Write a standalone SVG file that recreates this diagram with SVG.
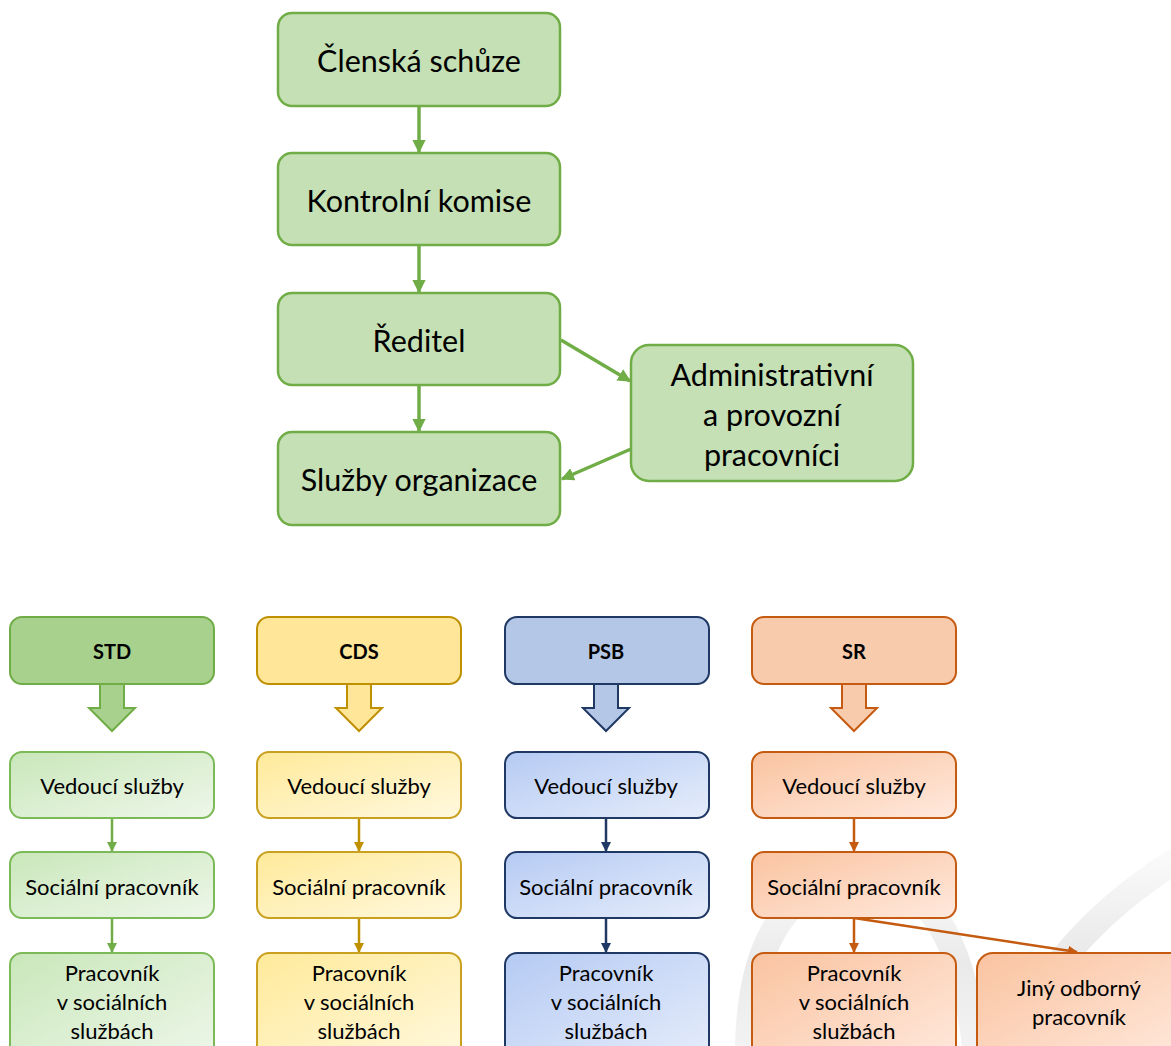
<svg xmlns="http://www.w3.org/2000/svg" width="1171" height="1046" viewBox="0 0 1171 1046">
<defs>
<style>
text{font-family:Lato,"Liberation Sans",sans-serif;fill:#000;text-anchor:middle;dominant-baseline:central}
.top rect{fill:#C5E0B4;stroke:#70AD47;stroke-width:2.5}
.top text{font-size:30.5px}
.hd text{font-size:20px;font-weight:bold}
.lv text{font-size:22px}
.g{stroke:#70AD47}.y{stroke:#BF9000}.b{stroke:#1F3864}.o{stroke:#C55A11}
.conn line{stroke-width:3.5;fill:none}
.conn .thin line{stroke-width:2.5}
</style>
<marker id="mg" viewBox="0 0 10 10" refX="9" refY="5" markerWidth="3.8" markerHeight="3.8" orient="auto" markerUnits="strokeWidth"><path d="M0,0L10,5L0,10z" fill="#70AD47"/></marker>
<marker id="mgs" viewBox="0 0 10 10" refX="9" refY="5" markerWidth="4" markerHeight="4" orient="auto" markerUnits="strokeWidth"><path d="M0,0L10,5L0,10z" fill="#70AD47"/></marker>
<marker id="my" viewBox="0 0 10 10" refX="9" refY="5" markerWidth="4" markerHeight="4" orient="auto" markerUnits="strokeWidth"><path d="M0,0L10,5L0,10z" fill="#BF9000"/></marker>
<marker id="mb" viewBox="0 0 10 10" refX="9" refY="5" markerWidth="4" markerHeight="4" orient="auto" markerUnits="strokeWidth"><path d="M0,0L10,5L0,10z" fill="#1F3864"/></marker>
<marker id="mo" viewBox="0 0 10 10" refX="9" refY="5" markerWidth="4" markerHeight="4" orient="auto" markerUnits="strokeWidth"><path d="M0,0L10,5L0,10z" fill="#C55A11"/></marker>
<linearGradient id="gg" x1="0" y1="0" x2="1" y2="1"><stop offset="0" stop-color="#C9E7BA"/><stop offset="1" stop-color="#EEF7EA"/></linearGradient>
<linearGradient id="gy" x1="0" y1="0" x2="1" y2="1"><stop offset="0" stop-color="#FFEA9A"/><stop offset="1" stop-color="#FFF8DE"/></linearGradient>
<linearGradient id="gb" x1="0" y1="0" x2="1" y2="1"><stop offset="0" stop-color="#B5CAF3"/><stop offset="1" stop-color="#E6EDFB"/></linearGradient>
<linearGradient id="go" x1="0" y1="0" x2="1" y2="1"><stop offset="0" stop-color="#FAC3A0"/><stop offset="1" stop-color="#FFE9DD"/></linearGradient>
<linearGradient id="wm" x1="0" y1="0" x2="0" y2="1"><stop offset="0" stop-color="#E6E6E6" stop-opacity="0.2"/><stop offset="0.5" stop-color="#E6E6E6" stop-opacity="0.85"/><stop offset="1" stop-color="#E6E6E6" stop-opacity="0.5"/></linearGradient>
</defs>
<rect width="1171" height="1046" fill="#fff"/>
<g id="watermark" fill="none" stroke="url(#wm)" stroke-width="26">
<path d="M748 1046 Q752 885 860 878 Q955 875 975 1046"/>
<path d="M1010 1046 Q1060 930 1185 855"/>
</g>
<g id="connectors" class="conn">
<line class="g" x1="419" y1="106" x2="419" y2="152" marker-end="url(#mg)"/>
<line class="g" x1="419" y1="245" x2="419" y2="292" marker-end="url(#mg)"/>
<line class="g" x1="419" y1="385" x2="419" y2="431" marker-end="url(#mg)"/>
<line class="g" x1="561" y1="340" x2="630" y2="381" marker-end="url(#mg)"/>
<line class="g" x1="631" y1="449" x2="562" y2="479" marker-end="url(#mg)"/>
<g class="thin">
<line class="g" x1="112" y1="818" x2="112" y2="851" marker-end="url(#mgs)"/>
<line class="g" x1="112" y1="918" x2="112" y2="952" marker-end="url(#mgs)"/>
<line class="y" x1="359" y1="818" x2="359" y2="851" marker-end="url(#my)"/>
<line class="y" x1="359" y1="918" x2="359" y2="952" marker-end="url(#my)"/>
<line class="b" x1="606" y1="818" x2="606" y2="851" marker-end="url(#mb)"/>
<line class="b" x1="606" y1="918" x2="606" y2="952" marker-end="url(#mb)"/>
<line class="o" x1="854" y1="818" x2="854" y2="851" marker-end="url(#mo)"/>
<line class="o" x1="854" y1="918" x2="854" y2="952" marker-end="url(#mo)"/>
<line class="o" x1="854" y1="918" x2="1077" y2="952" marker-end="url(#mo)"/>
</g>
<path d="M100 684H124V708H135L112 731L89 708H100Z" fill="#A9D18E" stroke="#70AD47" stroke-width="2"/>
<path d="M347 684H371V708H382L359 731L336 708H347Z" fill="#FFE699" stroke="#BF9000" stroke-width="2"/>
<path d="M594 684H618V708H629L606 731L583 708H594Z" fill="#B4C7E7" stroke="#1F3864" stroke-width="2"/>
<path d="M842 684H866V708H877L854 731L831 708H842Z" fill="#F8CBAD" stroke="#C55A11" stroke-width="2"/>
</g>
<g id="clenska" class="top"><rect x="278" y="13" width="282" height="93" rx="14"/><text x="419" y="60">Členská schůze</text></g>
<g id="kontrolni" class="top"><rect x="278" y="153" width="282" height="92" rx="14"/><text x="419" y="200">Kontrolní komise</text></g>
<g id="reditel" class="top"><rect x="278" y="293" width="282" height="92" rx="14"/><text x="419" y="340">Ředitel</text></g>
<g id="sluzby" class="top"><rect x="278" y="432" width="282" height="93" rx="14"/><text x="419" y="479">Služby organizace</text></g>
<g id="admin" class="top"><rect x="631" y="345" width="282" height="136" rx="18"/><text x="772" y="374">Administrativní</text><text x="772" y="414">a provozní</text><text x="772" y="454">pracovníci</text></g>

<g id="std" class="hd"><rect x="10" y="617" width="204" height="67" rx="12" fill="#A9D18E" stroke="#70AD47" stroke-width="2"/><text x="112" y="651">STD</text></g>
<g id="cds" class="hd"><rect x="257" y="617" width="204" height="67" rx="12" fill="#FFE699" stroke="#BF9000" stroke-width="2"/><text x="359" y="651">CDS</text></g>
<g id="psb" class="hd"><rect x="505" y="617" width="204" height="67" rx="12" fill="#B4C7E7" stroke="#1F3864" stroke-width="2"/><text x="606" y="651">PSB</text></g>
<g id="sr" class="hd"><rect x="752" y="617" width="204" height="67" rx="12" fill="#F8CBAD" stroke="#C55A11" stroke-width="2"/><text x="854" y="651">SR</text></g>

<g id="std-vedouci" class="lv"><rect x="10" y="752" width="204" height="66" rx="12" fill="url(#gg)" stroke="#7CB957" stroke-width="2"/><text x="112" y="785">Vedoucí služby</text></g>
<g id="std-socialni" class="lv"><rect x="10" y="852" width="204" height="66" rx="12" fill="url(#gg)" stroke="#7CB957" stroke-width="2"/><text x="112" y="886">Sociální pracovník</text></g>
<g id="std-pracovnik" class="lv"><rect x="10" y="953" width="204" height="110" rx="12" fill="url(#gg)" stroke="#7CB957" stroke-width="2"/><text x="112" y="972">Pracovník</text><text x="112" y="1001">v sociálních</text><text x="112" y="1030">službách</text></g>

<g id="cds-vedouci" class="lv"><rect x="257" y="752" width="204" height="66" rx="12" fill="url(#gy)" stroke="#C9A020" stroke-width="2"/><text x="359" y="785">Vedoucí služby</text></g>
<g id="cds-socialni" class="lv"><rect x="257" y="852" width="204" height="66" rx="12" fill="url(#gy)" stroke="#C9A020" stroke-width="2"/><text x="359" y="886">Sociální pracovník</text></g>
<g id="cds-pracovnik" class="lv"><rect x="257" y="953" width="204" height="110" rx="12" fill="url(#gy)" stroke="#C9A020" stroke-width="2"/><text x="359" y="972">Pracovník</text><text x="359" y="1001">v sociálních</text><text x="359" y="1030">službách</text></g>

<g id="psb-vedouci" class="lv"><rect x="505" y="752" width="204" height="66" rx="12" fill="url(#gb)" stroke="#1F3864" stroke-width="2"/><text x="606" y="785">Vedoucí služby</text></g>
<g id="psb-socialni" class="lv"><rect x="505" y="852" width="204" height="66" rx="12" fill="url(#gb)" stroke="#1F3864" stroke-width="2"/><text x="606" y="886">Sociální pracovník</text></g>
<g id="psb-pracovnik" class="lv"><rect x="505" y="953" width="204" height="110" rx="12" fill="url(#gb)" stroke="#1F3864" stroke-width="2"/><text x="606" y="972">Pracovník</text><text x="606" y="1001">v sociálních</text><text x="606" y="1030">službách</text></g>

<g id="sr-vedouci" class="lv"><rect x="752" y="752" width="204" height="66" rx="12" fill="url(#go)" stroke="#C55A11" stroke-width="2"/><text x="854" y="785">Vedoucí služby</text></g>
<g id="sr-socialni" class="lv"><rect x="752" y="852" width="204" height="66" rx="12" fill="url(#go)" stroke="#C55A11" stroke-width="2"/><text x="854" y="886">Sociální pracovník</text></g>
<g id="sr-pracovnik" class="lv"><rect x="752" y="953" width="204" height="110" rx="12" fill="url(#go)" stroke="#C55A11" stroke-width="2"/><text x="854" y="972">Pracovník</text><text x="854" y="1001">v sociálních</text><text x="854" y="1030">službách</text></g>
<g id="sr-jiny" class="lv"><rect x="977" y="953" width="210" height="110" rx="16" fill="url(#go)" stroke="#C55A11" stroke-width="2"/><text x="1079" y="987">Jiný odborný</text><text x="1079" y="1016">pracovník</text></g>
</svg>
